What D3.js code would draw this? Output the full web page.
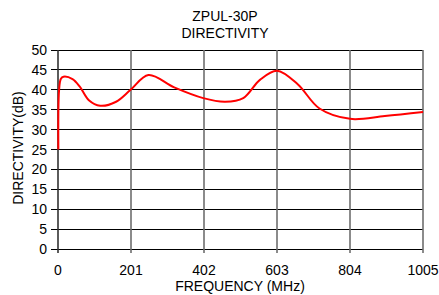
<!DOCTYPE html>
<html>
<head>
<meta charset="utf-8">
<script src="https://cdn.jsdelivr.net/npm/d3@7"></script>
<style>
  body { margin: 0; background: #fff; }
  text { font-family: "Liberation Sans", Arial, sans-serif; fill: #000; }
</style>
</head>
<body>
<div id="chart"></div>
<script>
// data
const freq = [1, 3, 8, 15, 40, 60, 85, 116, 160, 200, 249, 320, 400, 460, 510, 556, 603, 660, 720, 804, 900, 1005];
const directivity = [25, 40, 42.8, 43.3, 42.7, 40.8, 37.4, 36.0, 37.0, 40.0, 43.7, 40.6, 37.9, 37.0, 37.9, 42.5, 44.8, 41.4, 35.3, 32.7, 33.4, 34.4];
const xTicks = [0, 201, 402, 603, 804, 1005];
const yTicks = [0, 5, 10, 15, 20, 25, 30, 35, 40, 45, 50];

const W = 439, H = 295;
const margin = { top: 50, right: 16, bottom: 46, left: 58 };
const width = W - margin.left - margin.right,
      height = H - margin.top - margin.bottom;

const svg = d3.select("#chart").append("svg")
  .attr("width", W)
  .attr("height", H);

const g = svg.append("g")
  .attr("transform", "translate(" + margin.left + "," + margin.top + ")");

const x = d3.scaleLinear().domain([0, 1005]).range([0, width]);
const y = d3.scaleLinear().domain([0, 50]).range([height, 0]);

// horizontal grid (black)
g.selectAll(".hgrid")
  .data(yTicks)
  .enter().append("line")
  .attr("class", "hgrid")
  .attr("x1", -7).attr("x2", width)
  .attr("y1", d => y(d)).attr("y2", d => y(d))
  .style("stroke", "#000")
  .style("stroke-width", 1)
  .attr("shape-rendering", "crispEdges");

// vertical grid (grey)
g.selectAll(".vgrid")
  .data(xTicks)
  .enter().append("line")
  .attr("class", "vgrid")
  .attr("x1", d => x(d)).attr("x2", d => x(d))
  .attr("y1", 0).attr("y2", height + 4)
  .style("stroke", d => d === 0 ? "#333" : "#6e6e6e")
  .style("stroke-width", 1.6);

// tick labels
g.selectAll(".ylab")
  .data(yTicks)
  .enter().append("text")
  .attr("x", -11)
  .attr("y", d => y(d))
  .attr("dy", "0.36em")
  .attr("text-anchor", "end")
  .style("font-size", "14px")
  .text(d => d);

g.selectAll(".xlab")
  .data(xTicks)
  .enter().append("text")
  .attr("x", d => x(d))
  .attr("y", height + 26)
  .attr("text-anchor", "middle")
  .style("font-size", "14px")
  .text(d => d);

// curve
const pts = freq.map((f, i) => [f, directivity[i]]);
const line = d3.line()
  .x(d => x(d[0]))
  .y(d => y(d[1]))
  .curve(d3.curveCatmullRom.alpha(0.5));

g.append("path")
  .datum(pts)
  .attr("d", line)
  .style("fill", "none")
  .style("stroke", "#ff0000")
  .style("stroke-width", 2);

// titles
svg.append("text")
  .attr("x", 225).attr("y", 21)
  .attr("text-anchor", "middle")
  .style("font-size", "14px")
  .text("ZPUL-30P");
svg.append("text")
  .attr("x", 225).attr("y", 38)
  .attr("text-anchor", "middle")
  .style("font-size", "14px")
  .text("DIRECTIVITY");

svg.append("text")
  .attr("x", 240).attr("y", 291)
  .attr("text-anchor", "middle")
  .style("font-size", "14px")
  .text("FREQUENCY (MHz)");

svg.append("text")
  .attr("transform", "translate(23,148) rotate(-90)")
  .attr("text-anchor", "middle")
  .style("font-size", "14px")
  .text("DIRECTIVITY(dB)");
</script>
</body>
</html>
